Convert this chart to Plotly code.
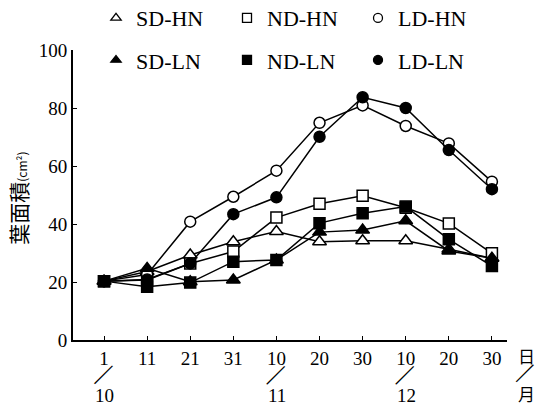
import plotly.graph_objects as go

# ---- data ----
days = ["1", "11", "21", "31", "10", "20", "30", "10", "20", "30"]
month_pos = [0, 4, 7]
month_labels = ["10", "11", "12"]
x_idx = list(range(len(days)))

sd_hn = [20.3, 23.6, 29.3, 33.9, 37.4, 33.9, 34.2, 34.2, 31.3, 28.2]
nd_hn = [20.3, 20.7, 26.4, 30.5, 42.2, 47.0, 49.7, 45.6, 40.2, 29.9]
ld_hn = [20.3, 22.6, 40.8, 49.4, 58.4, 74.9, 80.9, 73.8, 67.8, 54.6]
sd_ln = [20.3, 24.7, 20.1, 20.7, 27.6, 37.2, 37.9, 41.1, 30.7, 28.2]
nd_ln = [20.3, 18.4, 19.8, 27.0, 27.6, 40.3, 43.7, 46.0, 34.7, 25.5]
ld_ln = [20.3, 20.9, 26.4, 43.4, 49.2, 70.1, 83.7, 80.0, 65.5, 52.0]

series = [
    ("SD-HN", sd_hn, "triangle-up-open", "legend"),
    ("ND-HN", nd_hn, "square-open", "legend"),
    ("LD-HN", ld_hn, "circle-open", "legend"),
    ("SD-LN", sd_ln, "triangle-up", "legend2"),
    ("ND-LN", nd_ln, "square", "legend2"),
    ("LD-LN", ld_ln, "circle", "legend2"),
]

fig = go.Figure()
for name, vals, sym, _ in series:
    open_ = sym.endswith("-open")
    base = sym.replace("-open", "")
    fig.add_trace(go.Scatter(
        x=x_idx, y=vals, mode="lines+markers", showlegend=False,
        line=dict(color="black", width=1.5),
        marker=dict(symbol=base, size=12 if "triangle" in base else 11,
                    color="white" if open_ else "black",
                    line=dict(color="black", width=1.5)),
        cliponaxis=False,
    ))
# legend-only entries
for name, vals, sym, lg in series:
    open_ = sym.endswith("-open")
    base = sym.replace("-open", "")
    fig.add_trace(go.Scatter(
        x=[None], y=[None], mode="markers", name=name, legend=lg,
        marker=dict(symbol=base, size=9,
                    color="white" if open_ else "black",
                    line=dict(color="black", width=1.3)),
    ))

serif = "Liberation Serif"
fig.update_layout(
    width=540, height=406,
    margin=dict(l=73, r=33, t=50, b=66, autoexpand=False),
    paper_bgcolor="white", plot_bgcolor="white",
    font=dict(family=serif, size=16, color="black"),
    xaxis=dict(range=[-0.72, 9.35], tickmode="array", tickvals=x_idx,
               ticktext=days, showline=True, linecolor="black",
               linewidth=2, ticks="inside", ticklen=4, tickwidth=1.3,
               tickcolor="black", showgrid=False, zeroline=False,
               tickfont=dict(family=serif, size=19, color="black")),
    yaxis=dict(range=[0, 100], tickvals=[0, 20, 40, 60, 80, 100],
               showline=True, linecolor="black", linewidth=2,
               ticks="inside", ticklen=4, tickwidth=1.3, tickcolor="black",
               showgrid=False, zeroline=False,
               tickfont=dict(family=serif, size=19, color="black")),
    legend=dict(orientation="h", x=0.053, xanchor="left", y=1.11,
                yanchor="middle", entrywidth=86, entrywidthmode="pixels",
                font=dict(family=serif, size=22, color="black"),
                bgcolor="rgba(0,0,0,0)", itemclick=False),
    legend2=dict(orientation="h", x=0.053, xanchor="left", y=0.965,
                 yanchor="middle", entrywidth=86, entrywidthmode="pixels",
                 font=dict(family=serif, size=22, color="black"),
                 bgcolor="rgba(0,0,0,0)", itemclick=False),
    showlegend=True,
)

def note(text, x, xref, y, size, family=serif, angle=0):
    fig.add_annotation(text=text, x=x, xref=xref, y=y, yref="paper",
                       xanchor="center", yanchor="middle", textangle=angle,
                       showarrow=False, borderpad=0,
                       font=dict(family=family, size=size, color="black"))

# month labels with diagonal separators under the day ticks
for p, m in zip(month_pos, month_labels):
    note("—", p - 0.07, "x", -0.114, 25, angle=-45)
    note(m, p + 0.02, "x", -0.19, 19)
# 日 / 月 unit label at the right end of the axis
note("日", 1.046, "paper", -0.052, 17, family="Noto Sans CJK JP")
note("—", 1.036, "paper", -0.11, 24, angle=-45)
note("月", 1.044, "paper", -0.184, 17, family="Noto Sans CJK JP")

note("葉面積<span style='font-size:12px'>(cm²)</span>", -0.127, "paper", 0.49,
     21, family="Noto Sans CJK JP", angle=-90)

fig.write_html("out.html")
